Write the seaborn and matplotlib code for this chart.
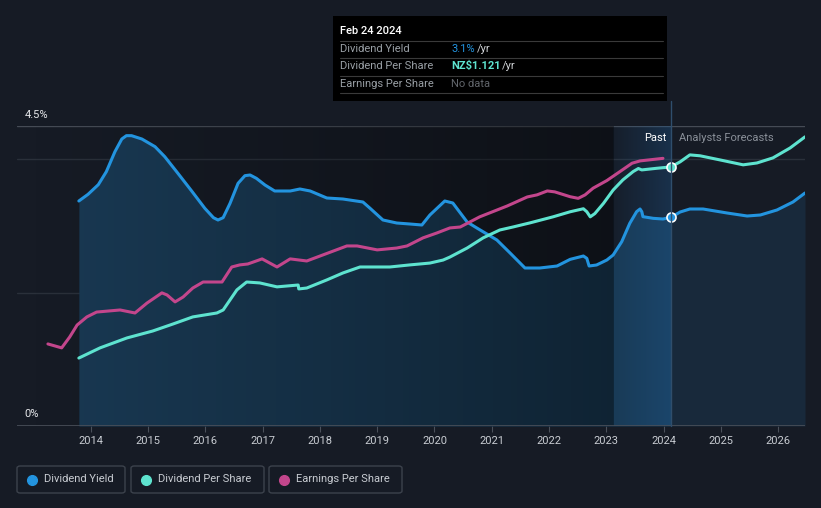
import numpy as np
import pandas as pd
import matplotlib
matplotlib.use("Agg")
import matplotlib.pyplot as plt
from matplotlib.patches import Rectangle, FancyBboxPatch
from matplotlib.lines import Line2D
import seaborn as sns

# ---------------- data ----------------
yield_x = [2013.79, 2013.95, 2014.13, 2014.27, 2014.42, 2014.54, 2014.62, 2014.71, 2014.89, 2015.12,
           2015.29, 2015.52, 2015.76, 2015.99, 2016.14, 2016.22, 2016.31, 2016.43, 2016.57, 2016.69,
           2016.78, 2016.89, 2017.04, 2017.21, 2017.48, 2017.65,
           2017.83, 2018.12, 2018.40, 2018.75, 2018.87, 2019.10, 2019.34, 2019.57, 2019.78, 2019.92,
           2020.18, 2020.32, 2020.57, 2020.74, 2021.09, 2021.32, 2021.58, 2021.84, 2022.14, 2022.37,
           2022.60, 2022.66, 2022.70, 2022.83, 2023.01, 2023.12, 2023.27, 2023.41, 2023.53, 2023.59,
           2023.62, 2023.64, 2023.82, 2023.99, 2024.13]
yield_y = [3.375, 3.475, 3.62, 3.815, 4.115, 4.305, 4.355, 4.355, 4.305, 4.19,
           4.04, 3.79, 3.525, 3.265, 3.125, 3.09, 3.125, 3.34, 3.64, 3.755,
           3.765, 3.715, 3.615, 3.525, 3.525, 3.555,
           3.525, 3.42, 3.405, 3.36, 3.27, 3.09, 3.045, 3.03, 3.015, 3.165,
           3.375, 3.345, 3.06, 2.97, 2.79, 2.595, 2.37, 2.37, 2.40, 2.50,
           2.55, 2.515, 2.40, 2.415, 2.49, 2.565, 2.765, 3.04, 3.215, 3.255,
           3.215, 3.14, 3.115, 3.105, 3.13]
yield_fc_x = [2024.13, 2024.29, 2024.46, 2024.69, 2025.11, 2025.46, 2025.69, 2025.98, 2026.26, 2026.47]
yield_fc_y = [3.13, 3.21, 3.255, 3.255, 3.195, 3.15, 3.165, 3.24, 3.36, 3.495]

dps_x = [2013.79, 2014.16, 2014.63, 2015.08, 2015.43, 2015.78, 2016.20, 2016.31, 2016.55, 2016.72,
         2016.95, 2017.25, 2017.62, 2017.63, 2017.77, 2018.12, 2018.40, 2018.70, 2019.22, 2019.57,
         2019.92, 2020.15, 2020.27, 2020.57, 2020.85, 2021.14, 2021.37, 2021.67, 2022.07, 2022.37,
         2022.60, 2022.66, 2022.72, 2022.80, 2022.95, 2023.12, 2023.29, 2023.47, 2023.56, 2023.62,
         2023.88, 2024.13]
dps_y = [0.294, 0.338, 0.381, 0.411, 0.441, 0.472, 0.489, 0.502, 0.589, 0.623,
         0.619, 0.602, 0.610, 0.593, 0.597, 0.632, 0.662, 0.688, 0.688, 0.697,
         0.705, 0.718, 0.731, 0.770, 0.814, 0.848, 0.861, 0.879, 0.905, 0.927,
         0.940, 0.927, 0.905, 0.919, 0.963, 1.021, 1.065, 1.101, 1.114, 1.108,
         1.115, 1.121]
dps_fc_x = [2024.13, 2024.29, 2024.46, 2024.64, 2024.99, 2025.39, 2025.63, 2025.91, 2026.21, 2026.47]
dps_fc_y = [1.121, 1.143, 1.173, 1.169, 1.151, 1.130, 1.138, 1.160, 1.203, 1.251]

eps_x = [2013.25, 2013.49, 2013.63, 2013.76, 2013.93, 2014.10, 2014.51, 2014.77, 2014.98, 2015.24,
         2015.33, 2015.47, 2015.61, 2015.78, 2015.96, 2016.29, 2016.46, 2016.60, 2016.74, 2016.99,
         2017.25, 2017.48, 2017.77, 2018.05, 2018.47, 2018.65, 2019.00, 2019.34, 2019.52, 2019.80,
         2020.04, 2020.27, 2020.45, 2020.79, 2021.27, 2021.62, 2021.79, 2021.97, 2022.10, 2022.37,
         2022.51, 2022.63, 2022.77, 2023.01, 2023.24, 2023.45, 2023.59, 2023.99]
eps_y = [0.355, 0.338, 0.385, 0.437, 0.472, 0.493, 0.502, 0.489, 0.532, 0.576,
         0.567, 0.537, 0.558, 0.597, 0.623, 0.623, 0.688, 0.697, 0.701, 0.723,
         0.688, 0.723, 0.714, 0.740, 0.779, 0.779, 0.762, 0.770, 0.779, 0.814,
         0.835, 0.857, 0.861, 0.905, 0.952, 0.991, 1.000, 1.017, 1.013, 0.992,
         0.985, 1.000, 1.029, 1.062, 1.101, 1.137, 1.147, 1.158]

year_ticks = list(range(2014, 2027))
now_x = 2024.13
past_band_start = 2023.12
x_min, x_max = 2012.71, 2026.47

# ---------------- style ----------------
BG = "#161b25"
BLUE = "#2394df"
CYAN = "#5ee3cf"
MAGENTA = "#c3468c"

sns.set_theme(style="dark")
plt.rcParams["font.family"] = ["Roboto", "DejaVu Sans"]

W, H = 821, 508
fig = plt.figure(figsize=(W / 100, H / 100), dpi=100, facecolor=BG)

def fx(px):
    return px / W

def fy(py):
    return 1 - py / H

ax = fig.add_axes([fx(17), fy(426), fx(805) - fx(17), fy(126) - fy(426)])
ax.set_facecolor(BG)
ax.set_xlim(x_min, x_max)
ax.set_ylim(0, 4.5)
for s in ax.spines.values():
    s.set_visible(False)
ax.grid(False)

# grid lines
ax.axhline(4.5, color="#454b55", lw=1.0, zorder=1)
ax.axhline(4.0, color="#2a303a", lw=1.0, zorder=1)
ax.axhline(2.0, color="#2a303a", lw=1.0, zorder=1)
ax.axhline(0.0, color="#4a505a", lw=1.2, zorder=6)

# fill under dividend yield
ax.fill_between(yield_x, yield_y, 0, color="#193953", lw=0, zorder=2)
ax.fill_between(yield_fc_x, yield_fc_y, 0, color="#18293b", lw=0, zorder=2)

# past darkening gradient
n = 256
grad = np.zeros((1, n, 4))
ramp = np.clip(np.linspace(-0.02, 1.0, n), 0, 1)
grad[0, :, 3] = ramp * 0.38
ax.imshow(grad, extent=[x_min, past_band_start, 0, 4.5], aspect="auto", zorder=3,
          interpolation="bilinear")
# highlight band gradient (blue)
band = np.zeros((1, n, 4))
band[0, :, 0] = 0.12; band[0, :, 1] = 0.38; band[0, :, 2] = 0.62
band[0, :, 3] = np.linspace(0.05, 0.32, n)
ax.imshow(band, extent=[past_band_start, now_x, 0, 4.5], aspect="auto", zorder=3,
          interpolation="bilinear")

# secondary axis for per-share values
ax2 = ax.twinx()
ax2.set_ylim(0, 1.298)
ax2.set_xlim(x_min, x_max)
ax2.axis("off")

df_y = pd.DataFrame({"x": yield_x, "y": yield_y})
df_yf = pd.DataFrame({"x": yield_fc_x, "y": yield_fc_y})
df_d = pd.DataFrame({"x": dps_x, "y": dps_y})
df_df = pd.DataFrame({"x": dps_fc_x, "y": dps_fc_y})
df_e = pd.DataFrame({"x": eps_x, "y": eps_y})

lw = 2.2
kw = dict(lw=lw, sort=False, zorder=5, solid_joinstyle="round", solid_capstyle="round")
sns.lineplot(data=df_y, x="x", y="y", ax=ax, color=BLUE, **kw)
sns.lineplot(data=df_yf, x="x", y="y", ax=ax, color=BLUE, **kw)
sns.lineplot(data=df_e, x="x", y="y", ax=ax2, color=MAGENTA, **kw)
sns.lineplot(data=df_d, x="x", y="y", ax=ax2, color=CYAN, **kw)
sns.lineplot(data=df_df, x="x", y="y", ax=ax2, color=CYAN, **kw)

ax.plot([now_x], [yield_y[-1]], "o", ms=6.5, mfc=BLUE, mec="white", mew=1.2, zorder=7)
ax2.plot([now_x], [dps_y[-1]], "o", ms=6.5, mfc=CYAN, mec="white", mew=1.2, zorder=7)

ax.set_xlabel(""); ax.set_ylabel("")
ax2.set_xlabel(""); ax2.set_ylabel("")
ax.set_yticks([])
ax.set_xticks(year_ticks)
ax.set_xticklabels([str(t) for t in year_ticks], color="#c8ccd2", fontsize=8)
ax.tick_params(axis="x", length=4, width=0.8, color="#4a505a", pad=3, bottom=True)

# y labels
fig.text(fx(25), fy(115), "4.5%", color="#e6e8eb", fontsize=8, va="center", ha="left")
fig.text(fx(24), fy(414), "0%", color="#e6e8eb", fontsize=8, va="center", ha="left")

# Past / Forecast labels
fig.text(fx(666), fy(138), "Past", color="#ffffff", fontsize=8, va="center", ha="right")
fig.text(fx(679), fy(138), "Analysts Forecasts", color="#8a9099", fontsize=8, va="center", ha="left")

# vertical now line
fig.add_artist(Line2D([fx(671), fx(671)], [fy(101), fy(426)], color="#2f4e6c", lw=1.0, zorder=10))

# tooltip
fig.add_artist(Rectangle((fx(333), fy(101)), fx(667) - fx(333), fy(16) - fy(101),
                         facecolor="#000000", edgecolor="none", zorder=11))
fig.text(fx(340), fy(31), "Feb 24 2024", color="#ffffff", fontsize=8, va="center", ha="left",
         fontweight="medium", zorder=12)
for yy in [41, 58, 76, 93]:
    fig.add_artist(Line2D([fx(340), fx(663)], [fy(yy), fy(yy)], color="#3a3a3a", lw=0.8, zorder=12))
rows = [("Dividend Yield", 49), ("Dividend Per Share", 66), ("Earnings Per Share", 84)]
for lab, yy in rows:
    fig.text(fx(340), fy(yy), lab, color="#9aa0a6", fontsize=8, va="center", ha="left", zorder=12)
fig.text(fx(451), fy(49), "3.1%", color=BLUE, fontsize=8, va="center", ha="left", zorder=12)
fig.text(fx(477), fy(49), "/yr", color="#d0d3d7", fontsize=8, va="center", ha="left", zorder=12)
fig.text(fx(451), fy(66), "NZ$1.121", color=CYAN, fontsize=8, va="center", ha="left",
         fontweight="bold", zorder=12)
fig.text(fx(502), fy(66), "/yr", color="#d0d3d7", fontsize=8, va="center", ha="left", zorder=12)
fig.text(fx(451), fy(84), "No data", color="#62666c", fontsize=8, va="center", ha="left", zorder=12)

# legend boxes
legend_items = [("Dividend Yield", BLUE, 17, 125), ("Dividend Per Share", CYAN, 131, 264),
                ("Earnings Per Share", MAGENTA, 269, 402)]
for lab, col, x0, x1 in legend_items:
    fig.add_artist(FancyBboxPatch((fx(x0), fy(493)), fx(x1) - fx(x0), fy(466) - fy(493),
                                  boxstyle="round,pad=0,rounding_size=0.004",
                                  facecolor="none", edgecolor="#3c424c", lw=1.0))
    fig.add_artist(Line2D([fx(x0 + 15)], [fy(479.5)], marker="o", ms=7, color=col, lw=0))
    fig.text(fx(x0 + 27), fy(479.5), lab, color="#c8ccd2", fontsize=8, va="center", ha="left")

fig.savefig("out.png", dpi=100, facecolor=BG)
